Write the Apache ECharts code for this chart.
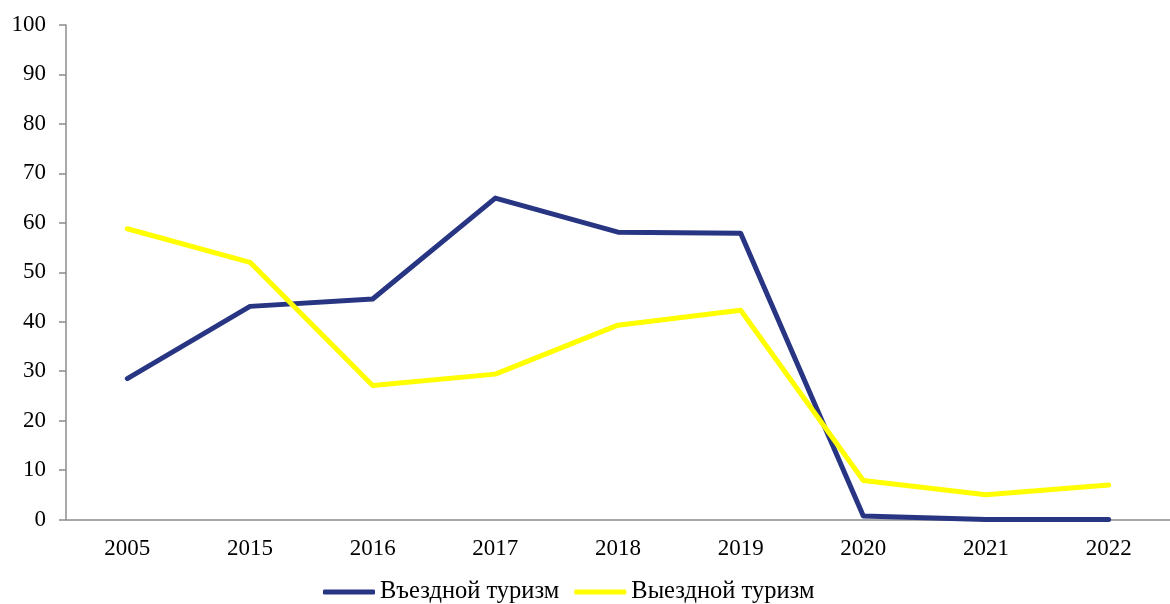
<!DOCTYPE html>
<html>
<head>
<meta charset="utf-8">
<script src="https://cdn.jsdelivr.net/npm/echarts@6/dist/echarts.min.js"></script>
<style>
  html, body { margin: 0; padding: 0; background: #fff; }
  #chart { width: 1170px; height: 604px; }
</style>
</head>
<body>
<div id="chart"></div>
<script>
// годы
const years = ['2005', '2015', '2016', '2017', '2018', '2019', '2020', '2021', '2022'];
// въездной туризм
const inbound = [28.5, 43.1, 44.6, 65.0, 58.1, 57.9, 0.7, 0.0, 0.0];
// выездной туризм
const outbound = [58.8, 52.0, 27.1, 29.4, 39.3, 42.3, 7.9, 5.0, 7.0];

const font = '"Liberation Serif", "Times New Roman", serif';
const axisColor = '#8c8c8c';

const chart = echarts.init(document.getElementById('chart'));
chart.setOption({
  animation: false,
  textStyle: { fontFamily: font },
  grid: { left: 66, top: 25, right: -8, bottom: 84.5, containLabel: false },
  legend: {
    top: 573,
    left: 318,
    icon: 'roundRect',
    itemWidth: 52,
    itemHeight: 5,
    itemGap: 15,
    itemTextGap: 2,
    textStyle: { fontFamily: font, fontSize: 24.5, color: '#000', lineHeight: 28 },
    data: ['Въездной туризм', 'Выездной туризм']
  },
  xAxis: {
    type: 'category',
    data: years,
    boundaryGap: true,
    axisLine: { lineStyle: { color: axisColor, width: 1.5 } },
    axisTick: { length: 6, lineStyle: { color: axisColor, width: 1.5 } },
    axisLabel: { color: '#000', fontSize: 23, fontFamily: font, margin: 18 }
  },
  yAxis: {
    type: 'value',
    min: 0,
    max: 100,
    interval: 10,
    splitLine: { show: false },
    axisLine: { show: true, lineStyle: { color: axisColor, width: 1.5 } },
    axisTick: { show: true, length: 7, lineStyle: { color: axisColor, width: 1.5 } },
    axisLabel: { color: '#000', fontSize: 23, fontFamily: font, margin: 20 }
  },
  series: [
    {
      name: 'Въездной туризм',
      type: 'line',
      data: inbound,
      symbol: 'none',
      lineStyle: { color: '#283583', width: 5, cap: 'round', join: 'round' },
      itemStyle: { color: '#283583' }
    },
    {
      name: 'Выездной туризм',
      type: 'line',
      data: outbound,
      symbol: 'none',
      lineStyle: { color: '#ffff00', width: 5, cap: 'round', join: 'round' },
      itemStyle: { color: '#ffff00' }
    }
  ]
});
</script>
</body>
</html>
